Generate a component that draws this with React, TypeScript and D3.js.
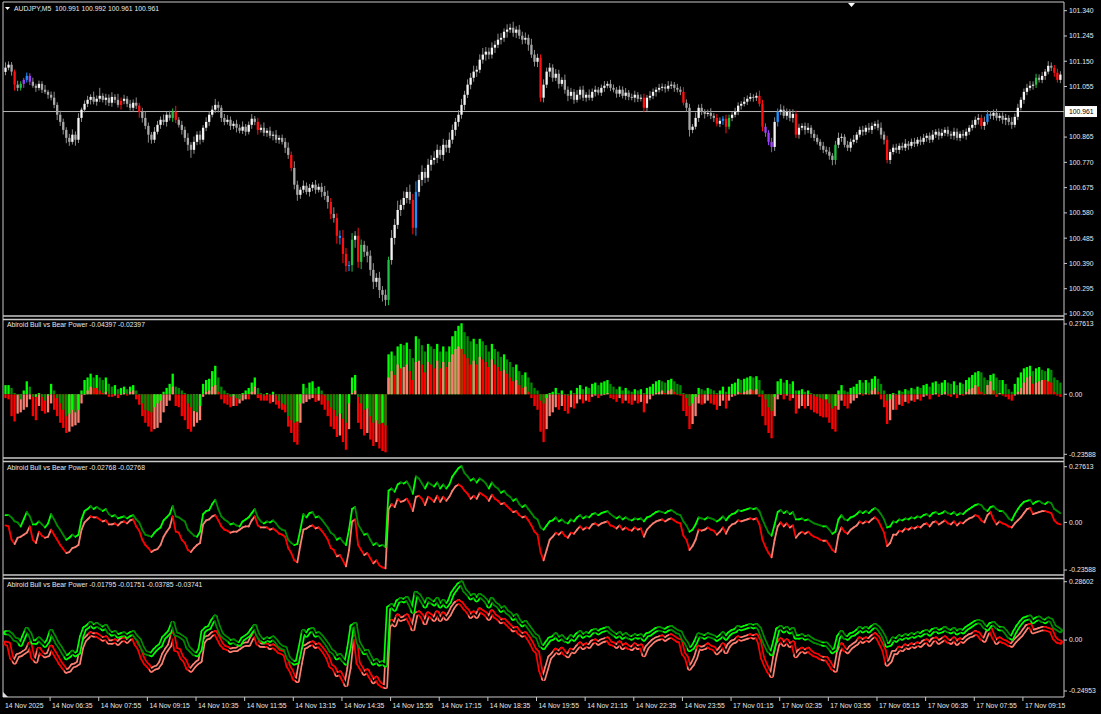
import React from 'react';
import * as d3 from 'd3';

// ---------- DATA ----------
const symbolTitle = 'AUDJPY,M5  100.991 100.992 100.961 100.961';
const ind2Title = 'Abiroid Bull vs Bear Power -0.04397 -0.02397';
const ind3Title = 'Abiroid Bull vs Bear Power -0.02768 -0.02768';
const ind4Title = 'Abiroid Bull vs Bear Power -0.01795 -0.01751 -0.03785 -0.03741';

const firstOpen = 101.110;
const closes = [
  101.126,101.137,101.111,101.062,101.050,101.065,101.080,101.095,101.073,101.058,101.050,101.065,101.043,101.035,101.024,101.013,
  100.986,100.949,100.922,100.892,100.862,100.847,100.874,100.855,100.937,100.968,
  100.990,101.005,101.016,100.998,101.009,101.020,101.005,101.013,100.994,101.016,101.005,100.986,101.001,101.009,100.990,100.975,100.994,100.983,100.960,
  100.937,100.907,100.874,100.855,100.885,100.911,100.930,100.922,100.949,100.937,100.960,100.930,100.911,100.892,100.862,100.836,
  100.817,100.847,100.874,100.855,100.900,100.922,100.949,100.968,100.986,100.975,100.937,100.922,100.930,100.907,100.915,
  100.900,100.889,100.904,100.885,100.911,100.934,100.922,100.892,100.900,100.881,100.889,100.870,100.874,100.855,100.862,100.847,100.825,100.798,100.749,100.686,
  100.648,100.667,100.682,100.659,100.674,100.686,100.667,100.678,100.659,100.644,100.621,100.576,100.561,100.494,100.486,
  100.426,100.381,100.384,100.479,100.494,100.396,100.460,100.434,100.419,100.366,100.321,100.336,100.290,100.272,100.253,100.403,100.486,
  100.535,100.591,100.610,100.636,100.659,100.629,100.524,100.659,100.704,100.734,100.712,100.761,100.779,100.787,100.817,100.798,100.836,100.825,100.855,100.892,100.922,100.949,100.986,
  101.024,101.062,101.088,101.111,101.118,101.156,101.175,101.186,101.175,101.201,101.212,101.231,101.238,101.261,101.269,101.276,101.257,101.269,101.246,101.231,101.238,101.212,
  101.175,101.148,101.163,101.013,101.062,101.111,101.126,101.088,101.103,101.065,101.080,101.043,101.020,101.035,101.005,101.024,101.043,101.013,
  101.024,101.013,101.035,101.043,101.032,101.050,101.058,101.065,101.050,101.043,101.028,101.043,101.020,101.032,101.016,101.013,101.024,101.009,101.013,100.975,
  101.013,101.020,101.035,101.043,101.050,101.054,101.047,101.058,101.062,101.050,101.043,101.035,100.994,100.975,
  100.892,100.904,100.937,100.975,100.960,100.952,100.956,100.945,100.937,100.915,100.926,100.934,100.904,100.937,100.949,100.960,100.983,100.990,100.998,101.009,
  101.016,101.013,101.020,100.990,100.904,100.881,100.847,100.828,100.922,100.960,100.968,100.945,100.960,100.937,100.952,100.874,
  100.900,100.907,100.892,100.900,100.877,100.862,100.847,100.832,100.817,100.810,100.795,100.779,100.836,100.862,100.866,100.836,100.825,100.847,100.855,100.874,
  100.892,100.885,100.900,100.892,100.907,100.915,100.900,100.874,100.855,100.779,
  100.809,100.825,100.817,100.832,100.825,100.840,100.832,100.847,100.840,100.855,100.847,100.862,100.870,100.855,100.874,100.885,100.870,100.881,100.892,100.877,
  100.870,100.885,100.862,100.877,100.870,100.885,100.900,100.911,100.930,100.937,
  100.907,100.922,100.952,100.945,100.956,100.937,100.945,100.930,100.937,100.922,100.911,100.941,100.975,101.005,101.035,101.050,101.058,101.062,101.088,101.080,
  101.095,101.111,101.133,101.126,101.107,101.080,101.100,
];

// wick lengths beyond the body, in quarter-pip units (0.0025)
const WICK_UNIT = 0.0025;
const wickHi = [
  8,5,4,3,6,4,3,5,4,6,3,5,4,7,3,5,9,4,6,5,
  4,6,8,5,7,3,5,6,4,8,5,12,4,6,5,7,4,9,5,6,
  4,6,5,8,4,6,10,5,4,7,6,5,8,4,6,5,9,4,6,5,
  7,4,8,5,6,4,7,5,6,9,5,4,6,7,5,4,6,5,8,4,
  5,7,4,6,5,8,4,6,5,7,4,5,6,8,5,10,6,4,8,5,
  6,4,7,5,6,9,8,6,10,7,8,12,9,6,10,7,12,8,6,9,
  8,10,7,9,6,8,5,12,9,14,8,10,7,11,9,16,8,10,6,9,
  7,10,8,6,9,7,11,8,6,7,9,6,8,7,9,6,8,10,7,6,
  8,6,9,7,5,8,6,9,5,7,6,8,5,9,7,6,5,8,6,7,
  5,7,6,4,8,5,6,4,7,5,6,4,8,5,6,4,5,7,4,6,
  5,4,6,5,7,4,5,6,4,5,6,4,7,5,4,6,5,4,7,5,
  4,6,5,7,5,6,4,8,5,6,4,5,7,4,6,5,4,6,5,4,
  6,5,4,7,5,6,4,5,8,6,5,4,6,7,5,8,6,5,4,7,
  5,6,4,5,7,4,6,5,4,6,5,7,4,6,8,5,4,6,5,7,
  4,5,6,4,7,5,4,6,8,5,6,4,5,6,4,5,7,4,5,6,
  4,5,6,4,5,7,4,5,6,4,5,4,6,5,4,6,5,4,7,5,
  6,5,8,6,4,5,6,4,5,6,4,7,5,6,4,5,6,7,5,6,
  5,6,4,7,5,4,6,5,
];
const wickLo = [
  5,4,6,9,5,4,6,4,5,3,6,4,5,3,6,4,5,8,6,7,
  8,6,4,9,5,6,4,5,7,4,6,5,4,8,5,6,5,4,7,5,
  5,4,6,5,9,7,5,12,6,5,4,6,5,7,4,6,5,4,7,6,
  9,12,6,5,7,4,5,6,4,5,7,6,5,4,6,5,7,4,5,6,
  4,6,5,7,4,5,6,4,7,5,6,4,8,6,5,7,9,6,5,4,
  7,5,6,4,8,6,10,8,7,12,10,14,9,8,10,12,9,11,8,10,
  9,11,8,12,10,9,8,7,10,6,9,7,8,6,10,12,7,9,8,6,
  9,7,8,6,9,7,8,6,9,7,6,8,5,7,6,8,5,6,9,7,
  6,8,5,7,6,9,5,6,8,5,7,6,9,5,7,8,6,7,5,8,
  6,5,7,4,6,8,5,6,4,7,5,6,4,5,7,4,5,6,4,5,
  4,6,5,4,6,5,4,7,5,4,6,5,4,5,7,4,5,6,4,5,
  6,4,5,4,6,10,5,4,6,5,7,4,5,6,4,5,6,10,4,5,
  4,5,6,4,5,4,6,5,4,7,6,5,8,6,7,5,4,6,5,7,
  5,6,4,7,5,6,5,4,6,5,4,6,8,7,5,6,4,5,6,4,
  5,4,6,5,4,6,5,4,6,7,5,6,4,5,6,4,5,6,4,5,
  4,5,4,6,5,4,5,6,4,5,4,5,6,4,5,4,6,5,4,5,
  7,5,6,4,5,6,4,5,6,8,5,6,4,5,4,6,5,4,6,5,
  4,5,6,4,5,6,4,5,
];

// highlighted candles: [bar index, colour key]
const signals: [number, string][] = [
  [3,'red'],[5,'green'],[6,'purple'],[7,'blue'],[8,'purple'],
  [38,'red'],[44,'red'],[55,'green'],[56,'red'],[83,'red'],[94,'red'],
  [107,'red'],[109,'red'],[110,'blue'],[111,'red'],[112,'red'],[113,'blue'],[114,'green'],[116,'red'],[117,'green'],
  [126,'green'],[134,'red'],[135,'blue'],[176,'red'],[210,'red'],[223,'red'],
  [234,'red'],[236,'blue'],[237,'red'],[238,'green'],[248,'red'],[249,'red'],
  [250,'purple'],[251,'purple'],[252,'purple'],[254,'blue'],[260,'red'],[273,'green'],
  [290,'red'],[321,'red'],[323,'blue'],[339,'green'],[345,'red'],[346,'red'],
];

const bull = [
  0.036,0.036,0.025,0.005,0.000,-0.020,0.015,0.051,0.030,-0.010,
  -0.010,0.005,-0.010,-0.025,-0.005,0.041,0.015,-0.015,-0.036,-0.061,
  -0.086,-0.076,-0.061,-0.071,-0.061,0.015,0.056,0.066,0.081,0.066,
  0.076,0.066,0.056,0.066,0.041,0.030,0.036,0.020,0.025,0.030,
  0.020,0.030,0.036,0.015,0.000,-0.036,-0.061,-0.066,-0.071,-0.051,
  -0.036,-0.025,0.010,0.025,0.041,0.081,0.030,0.025,0.015,0.005,
  -0.036,-0.051,-0.066,-0.071,-0.046,0.041,0.056,0.061,0.091,0.112,
  0.066,0.030,0.015,0.005,-0.010,-0.005,-0.015,-0.020,0.005,0.015,
  0.025,0.046,0.066,0.025,0.005,-0.005,0.005,0.000,0.010,-0.005,
  -0.025,-0.036,-0.041,-0.086,-0.102,-0.112,-0.107,-0.036,0.041,0.025,
  0.046,0.051,0.025,0.030,0.015,-0.005,-0.025,-0.051,-0.061,-0.086,
  -0.076,-0.096,-0.112,-0.036,0.066,0.076,-0.010,-0.036,-0.061,-0.056,
  -0.086,-0.112,-0.102,-0.117,-0.112,-0.122,0.157,0.168,0.152,0.188,
  0.198,0.193,0.203,0.178,0.142,0.228,0.218,0.193,0.168,0.198,
  0.188,0.178,0.198,0.168,0.188,0.168,0.188,0.228,0.249,0.269,
  0.279,0.244,0.228,0.208,0.218,0.198,0.218,0.208,0.193,0.168,
  0.198,0.178,0.168,0.147,0.157,0.137,0.127,0.107,0.117,0.091,
  0.076,0.086,0.066,0.046,0.025,0.015,-0.025,-0.036,-0.015,0.005,
  0.010,0.025,0.005,0.015,0.000,-0.005,0.015,0.005,0.025,0.036,
  0.020,0.030,0.025,0.041,0.046,0.036,0.046,0.051,0.056,0.041,
  0.030,0.020,0.030,0.015,0.025,0.015,0.010,0.020,0.015,0.020,
  0.005,0.025,0.030,0.041,0.051,0.056,0.051,0.046,0.056,0.061,
  0.051,0.041,0.036,0.005,-0.015,-0.046,-0.036,-0.010,0.025,0.020,
  0.015,0.025,0.020,0.015,0.005,0.015,0.030,0.010,0.030,0.041,
  0.046,0.061,0.056,0.061,0.066,0.071,0.066,0.071,0.056,0.015,
  -0.020,-0.051,-0.066,-0.010,0.051,0.061,0.046,0.056,0.041,0.051,
  0.015,0.015,0.020,0.010,0.015,0.005,-0.005,-0.010,-0.015,-0.020,
  -0.020,-0.036,-0.056,-0.046,0.015,0.036,0.015,0.010,0.025,0.030,
  0.041,0.056,0.046,0.056,0.046,0.061,0.071,0.061,0.041,0.015,
  -0.025,-0.020,0.005,0.000,0.015,0.010,0.020,0.015,0.025,0.020,
  0.030,0.025,0.036,0.041,0.030,0.046,0.051,0.041,0.046,0.056,
  0.046,0.041,0.051,0.036,0.046,0.041,0.056,0.066,0.076,0.086,
  0.091,0.086,0.066,0.056,0.076,0.081,0.066,0.056,0.056,0.041,
  0.020,0.010,0.041,0.066,0.086,0.102,0.107,0.112,0.091,0.102,
  0.107,0.096,0.091,0.102,0.096,0.066,0.056,0.046,
];
const bear = [
  -0.015,-0.020,-0.086,-0.107,-0.076,-0.071,-0.061,-0.051,-0.020,-0.086,
  -0.102,-0.046,-0.066,-0.076,-0.071,-0.036,-0.061,-0.086,-0.112,-0.132,
  -0.152,-0.147,-0.127,-0.122,-0.112,-0.036,0.000,0.015,0.030,0.025,
  0.025,0.015,0.005,0.010,-0.010,-0.010,-0.005,-0.015,0.000,0.005,
  -0.005,0.010,0.015,-0.020,-0.041,-0.086,-0.112,-0.127,-0.147,-0.137,
  -0.132,-0.112,-0.071,-0.046,-0.025,0.030,-0.046,-0.051,-0.086,-0.102,
  -0.137,-0.147,-0.127,-0.112,-0.102,-0.010,0.010,0.015,0.030,0.036,
  0.010,-0.020,-0.036,-0.041,-0.051,-0.046,-0.046,-0.036,-0.025,-0.020,
  -0.020,0.010,0.030,-0.015,-0.025,-0.025,-0.025,-0.036,-0.030,-0.041,
  -0.056,-0.061,-0.071,-0.127,-0.152,-0.188,-0.198,-0.112,-0.036,-0.030,
  -0.020,-0.015,-0.030,-0.025,-0.041,-0.061,-0.086,-0.127,-0.137,-0.168,
  -0.162,-0.188,-0.218,-0.137,0.005,0.015,-0.112,-0.137,-0.162,-0.152,
  -0.178,-0.203,-0.188,-0.213,-0.223,-0.228,0.066,0.091,0.076,0.117,
  0.102,0.107,0.117,0.091,0.056,0.127,0.132,0.117,0.086,0.127,
  0.117,0.102,0.132,0.102,0.127,0.107,0.127,0.157,0.178,0.188,
  0.178,0.157,0.142,0.117,0.132,0.117,0.147,0.137,0.127,0.107,
  0.137,0.117,0.107,0.091,0.096,0.081,0.066,0.051,0.056,0.036,
  0.025,0.030,0.010,-0.015,-0.046,-0.061,-0.147,-0.188,-0.137,-0.086,
  -0.071,-0.051,-0.061,-0.046,-0.066,-0.076,-0.051,-0.056,-0.036,-0.020,
  -0.036,-0.025,-0.030,-0.010,-0.005,-0.015,-0.005,0.000,0.005,-0.015,
  -0.020,-0.030,-0.015,-0.036,-0.025,-0.036,-0.041,-0.025,-0.036,-0.030,
  -0.071,-0.036,-0.020,-0.005,0.005,0.010,0.015,0.005,0.015,0.020,
  0.010,0.000,-0.005,-0.066,-0.086,-0.137,-0.117,-0.086,-0.036,-0.041,
  -0.036,-0.025,-0.036,-0.041,-0.061,-0.046,-0.025,-0.056,-0.025,-0.010,
  -0.005,0.010,0.005,0.010,0.015,0.020,0.015,0.020,-0.010,-0.086,
  -0.122,-0.152,-0.173,-0.086,-0.020,0.000,-0.020,-0.005,-0.025,-0.015,
  -0.076,-0.056,-0.046,-0.056,-0.046,-0.061,-0.071,-0.076,-0.086,-0.091,
  -0.091,-0.112,-0.137,-0.147,-0.061,-0.025,-0.046,-0.056,-0.036,-0.025,
  -0.015,0.005,-0.005,0.005,0.000,0.015,0.025,0.010,-0.020,-0.051,
  -0.117,-0.102,-0.061,-0.061,-0.041,-0.046,-0.030,-0.036,-0.025,-0.030,
  -0.020,-0.025,-0.010,-0.005,-0.020,0.000,0.005,-0.010,0.000,0.010,
  -0.005,-0.010,0.005,-0.015,0.000,-0.005,0.010,0.020,0.025,0.036,
  0.030,0.010,0.000,0.036,0.051,0.015,-0.010,0.005,-0.005,-0.010,
  -0.020,-0.025,-0.005,0.010,0.025,0.046,0.066,0.071,0.041,0.046,
  0.051,0.056,0.056,0.051,0.046,0.010,-0.005,-0.010,
];

const priceTicks = [101.340,101.245,101.150,101.055,100.865,100.770,100.675,100.580,100.485,100.390,100.295,100.200];
const currentPrice = 100.961;
const timeLabels = ['14 Nov 2025','14 Nov 06:35','14 Nov 07:55','14 Nov 09:15','14 Nov 10:35','14 Nov 11:55','14 Nov 13:15','14 Nov 14:35','14 Nov 15:55','14 Nov 17:15','14 Nov 18:35','14 Nov 19:55','14 Nov 21:15','14 Nov 22:35','14 Nov 23:55','17 Nov 01:15','17 Nov 02:35','17 Nov 03:55','17 Nov 05:15','17 Nov 06:35','17 Nov 07:55','17 Nov 09:15'];
const timeLabelBars = [0,15,31,47,63,79,95,111,127,143,159,175,191,207,223,239,255,271,287,303,319,335];
const ind2Range = [-0.23588, 0.27613];
const ind3Range = [-0.23588, 0.27613];
const ind4Range = [-0.24953, 0.28602];

// ---------- STYLE ----------
const FONT = 'Liberation Sans, Arial, sans-serif';
const FS = 6.8;
const AXIS_COL = '#c8c8c8';
const TXT = '#e8e8e8';
const sigColor: Record<string,string> = { red: '#ff1010', green: '#20c040', blue: '#1e8fff', purple: '#a040ff' };
const LIME = '#00ff00', DKGREEN = '#008a00', RED = '#ff0000', SALMON = '#fa8072';

const PLOT_L = 3, PLOT_R = 1064;

export default function App() {
  const N = closes.length;
  const x = d3.scaleLinear().domain([0, N - 1]).range([5.5, 1060.4]);
  const yP = d3.scaleLinear().domain([100.2, 101.34]).range([314, 10.7]);
  const y2 = d3.scaleLinear().domain(ind2Range).range([454.3, 324]);
  const y3 = d3.scaleLinear().domain(ind3Range).range([570, 466.7]);
  const y4 = d3.scaleLinear().domain(ind4Range).range([691, 581.7]);
  const sigMap = new Map(signals);
  const bw = 2.3;

  const candles = closes.map((c, i) => {
    const o = i === 0 ? firstOpen : closes[i - 1];
    const h = Math.max(o, c) + wickHi[i] * WICK_UNIT;
    const l = Math.min(o, c) - wickLo[i] * WICK_UNIT;
    const sig = sigMap.get(i);
    const up = c >= o;
    const fill = sig ? sigColor[sig] : up ? '#f4f4f4' : '#a8a8a8';
    const top = yP(Math.max(o, c)), bot = yP(Math.min(o, c));
    const cx = x(i);
    return (
      <g key={i}>
        <line x1={cx} x2={cx} y1={yP(h)} y2={yP(l)} stroke={sig ? sigColor[sig] : '#8c8c8c'} strokeWidth={1} />
        <rect x={cx - bw / 2} y={top} width={bw} height={Math.max(1, bot - top)} fill={fill} />
      </g>
    );
  });

  const histo = closes.map((_, i) => {
    const b = bull[i], r = bear[i];
    const bc = i > 0 && b < bull[i - 1] ? DKGREEN : LIME;
    const rc = i > 0 && r > bear[i - 1] ? SALMON : RED;
    const z = y2(0);
    const mk = (v: number, col: string, k: string) => {
      const yy = y2(v);
      return <rect key={k} x={x(i) - 1.15} y={Math.min(yy, z)} width={2.3} height={Math.max(0.8, Math.abs(yy - z))} fill={col} />;
    };
    const items = [
      { v: b, c: bc, k: 'b' },
      { v: r, c: rc, k: 'r' },
    ].sort((a, bb) => Math.abs(bb.v) - Math.abs(a.v));
    return <g key={i}>{items.map((it) => mk(it.v, it.c, it.k))}</g>;
  });

  const segLines = (vals: number[], y: d3.ScaleLinear<number, number>, upCol: string, dnCol: string, w: number, key: string) =>
    vals.slice(1).map((v, j) => {
      const i = j + 1;
      const col = v >= vals[i - 1] ? upCol : dnCol;
      return <line key={key + i} x1={x(i - 1)} y1={y(vals[i - 1])} x2={x(i)} y2={y(v)} stroke={col} strokeWidth={w} strokeLinecap="round" />;
    });

  const path4 = (vals: number[]) => d3.line<number>().x((_, i) => x(i)).y((v) => y4(v))(vals) || '';

  const rightLabel = (val: string, y: number, key: string) => (
    <g key={key}>
      <line x1={PLOT_R} x2={PLOT_R + 3} y1={y} y2={y} stroke={AXIS_COL} />
      <text x={PLOT_R + 5} y={y} dy="0.35em" fontSize={FS} fill={TXT} fontFamily={FONT}>{val}</text>
    </g>
  );

  const panels = [
    { t: 2, b: 316 },
    { t: 319.5, b: 458 },
    { t: 461.5, b: 575 },
    { t: 578.5, b: 697 },
  ];

  return (
    <svg width={1101} height={714} style={{ position: 'absolute', left: 0, top: 0, background: '#000' }}>
      <rect x={0} y={0} width={1101} height={714} fill="#000" />
      {panels.map((p, k) => (
        <g key={k}>
          <line x1={PLOT_L} x2={PLOT_R} y1={p.t} y2={p.t} stroke={AXIS_COL} strokeWidth={k === 0 ? 1 : 1.6} />
          <line x1={PLOT_L} x2={PLOT_R} y1={p.b} y2={p.b} stroke={AXIS_COL} strokeWidth={k === 3 ? 1 : 1.6} />
        </g>
      ))}
      <line x1={PLOT_L} x2={PLOT_L} y1={2} y2={697} stroke={AXIS_COL} />
      <line x1={PLOT_R} x2={PLOT_R} y1={2} y2={697} stroke={AXIS_COL} />

      {/* main chart */}
      <line x1={PLOT_L} x2={PLOT_R} y1={yP(currentPrice)} y2={yP(currentPrice)} stroke="#b8b8b8" strokeWidth={1} />
      <g>{candles}</g>
      {priceTicks.map((p, k) => rightLabel(p.toFixed(3), yP(p), 'p' + k))}
      <rect x={PLOT_R + 1} y={yP(currentPrice) - 5.5} width={32} height={11} fill="#fff" />
      <text x={PLOT_R + 5} y={yP(currentPrice)} dy="0.35em" fontSize={FS} fill="#000" fontFamily={FONT}>{currentPrice.toFixed(3)}</text>
      <path d="M5,7 L10,7 L7.5,10 Z" fill="#fff" />
      <text x={14} y={9} dy="0.35em" fontSize={FS} fill={TXT} fontFamily={FONT} style={{ whiteSpace: 'pre' }}>{symbolTitle}</text>
      <path d="M848,3 L855,3 L851.5,7 Z" fill="#fff" />

      {/* panel 2 histogram */}
      <g>{histo}</g>
      <text x={7} y={325} dy="0.35em" fontSize={FS} fill={TXT} fontFamily={FONT}>{ind2Title}</text>
      {rightLabel(ind2Range[1].toFixed(5), y2(ind2Range[1]), 'a1')}
      {rightLabel('0.00', y2(0), 'a2')}
      {rightLabel(ind2Range[0].toFixed(5), y2(ind2Range[0]), 'a3')}

      {/* panel 3 lines */}
      <g>{segLines(bear, y3, SALMON, RED, 1.8, 'r3')}</g>
      <g>{segLines(bull, y3, LIME, DKGREEN, 1.8, 'g3')}</g>
      <text x={7} y={468} dy="0.35em" fontSize={FS} fill={TXT} fontFamily={FONT}>{ind3Title}</text>
      {rightLabel(ind3Range[1].toFixed(5), y3(ind3Range[1]), 'b1')}
      {rightLabel('0.00', y3(0), 'b2')}
      {rightLabel(ind3Range[0].toFixed(5), y3(ind3Range[0]), 'b3')}

      {/* panel 4 double lines */}
      <g>{segLines(bear, y4, SALMON, RED, 5, 'r4')}</g>
      <path d={path4(bear)} fill="none" stroke="#000" strokeWidth={1.6} />
      <g>{segLines(bull, y4, LIME, DKGREEN, 5, 'g4')}</g>
      <path d={path4(bull)} fill="none" stroke="#000" strokeWidth={1.6} />
      <text x={7} y={585} dy="0.35em" fontSize={FS} fill={TXT} fontFamily={FONT}>{ind4Title}</text>
      {rightLabel(ind4Range[1].toFixed(5), y4(ind4Range[1]), 'c1')}
      {rightLabel('0.00', y4(0), 'c2')}
      {rightLabel(ind4Range[0].toFixed(5), y4(ind4Range[0]), 'c3')}

      {/* time axis */}
      {timeLabels.map((t, k) => {
        const xx = k === 0 ? PLOT_L : x(timeLabelBars[k]) - 1;
        return (
          <g key={'t' + k}>
            {k > 0 && <line x1={xx} x2={xx} y1={697} y2={701} stroke={AXIS_COL} />}
            <text x={xx + 2} y={706} dy="0.35em" fontSize={FS} fill={TXT} fontFamily={FONT}>{t}</text>
          </g>
        );
      })}
      <path d="M3,692 L3,697 L8,697 Z" fill="#ddd" />
    </svg>
  );
}
